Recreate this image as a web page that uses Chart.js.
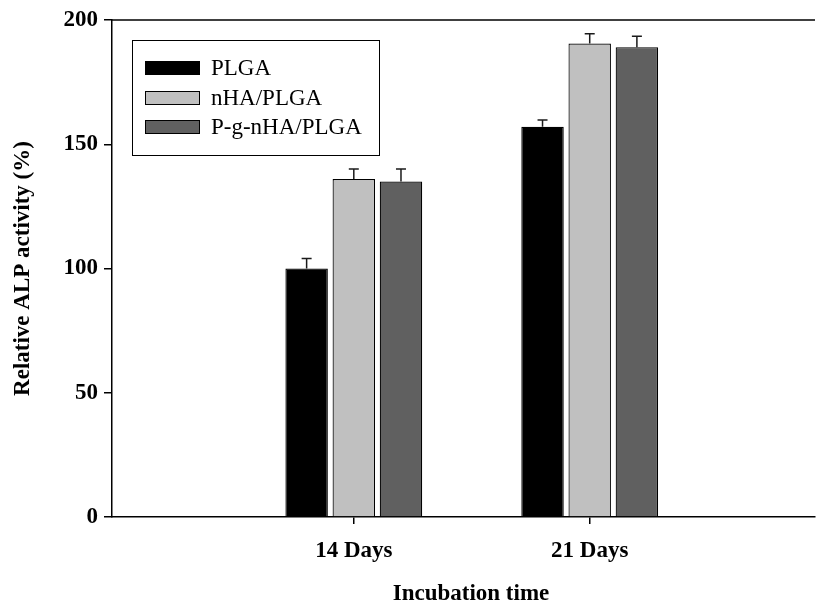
<!DOCTYPE html>
<html>
<head>
<meta charset="utf-8">
<script src="https://cdn.jsdelivr.net/npm/chart.js@4.4.1/dist/chart.umd.min.js"></script>
<style>
  html, body { margin: 0; padding: 0; background: #fff; }
  #wrap { width: 816px; height: 605px; position: relative; }
</style>
</head>
<body>
<div id="wrap"><canvas id="alpChart"></canvas></div>
<script>
// Données
const days = ['14 Days', '21 Days'];
const groups = ['PLGA', 'nHA/PLGA', 'P-g-nHA/PLGA'];
const plgaValues = [100, 157];
const plgaErrors = [4, 2.8];
const nhaValues = [136, 190.5];
const nhaErrors = [4, 4];
const pgValues = [135, 189];
const pgErrors = [5, 4.5];
const yTicks = [0, 50, 100, 150, 200];

const fillColors = ['#000000', '#c0c0c0', '#606060'];
const serif = '"Liberation Serif", "Times New Roman", serif';

// positions 1, 2 sur un axe linéaire (les catégories ne sont pas centrées dans le cadre)
function toPoints(values) {
    return values.map((v, i) => ({ x: i + 1, y: v }));
}

const seriesValues = [plgaValues, nhaValues, pgValues];
const seriesErrors = [plgaErrors, nhaErrors, pgErrors];

// barres d'erreur (vers le haut seulement)
const errorBars = {
    id: 'errorBars',
    afterDatasetsDraw(chart) {
        const ctx = chart.ctx;
        const yScale = chart.scales.y;
        ctx.save();
        ctx.strokeStyle = '#1a1a1a';
        ctx.lineWidth = 1.5;
        chart.data.datasets.forEach((ds, di) => {
            const meta = chart.getDatasetMeta(di);
            meta.data.forEach((bar, i) => {
                const top = yScale.getPixelForValue(seriesValues[di][i] + seriesErrors[di][i]);
                ctx.beginPath();
                ctx.moveTo(bar.x, bar.y);
                ctx.lineTo(bar.x, top);
                ctx.moveTo(bar.x - 5, top);
                ctx.lineTo(bar.x + 5, top);
                ctx.stroke();
            });
        });
        ctx.restore();
    }
};

// cadre du haut, légende encadrée et titre de l'axe x
const frameAndLegend = {
    id: 'frameAndLegend',
    afterDraw(chart) {
        const ctx = chart.ctx;
        const area = chart.chartArea;
        ctx.save();
        ctx.strokeStyle = '#000';
        ctx.lineWidth = 1.5;
        ctx.beginPath();
        ctx.moveTo(area.left, area.top);
        ctx.lineTo(area.right, area.top);
        ctx.stroke();

        // légende
        ctx.lineWidth = 1;
        ctx.strokeRect(132.5, 40.5, 247, 115);
        const rows = [68, 98, 127];
        ctx.font = '23px ' + serif;
        ctx.textBaseline = 'middle';
        ctx.textAlign = 'left';
        chart.data.datasets.forEach((ds, i) => {
            ctx.fillStyle = ds.backgroundColor;
            ctx.fillRect(145.5, rows[i] - 6.5, 54, 13);
            ctx.strokeStyle = '#000';
            ctx.strokeRect(145.5, rows[i] - 6.5, 54, 13);
            ctx.fillStyle = '#000';
            ctx.fillText(ds.label, 211, rows[i] + 1);
        });

        // titre axe x
        ctx.font = 'bold 23px ' + serif;
        ctx.textAlign = 'center';
        ctx.fillText('Incubation time', 471, 594);
        ctx.restore();
    }
};

new Chart(document.getElementById('alpChart'), {
    type: 'bar',
    data: {
        datasets: groups.map((g, i) => ({
            label: g,
            data: toPoints(seriesValues[i]),
            backgroundColor: fillColors[i],
            borderColor: '#000',
            borderWidth: 1.2,
            categoryPercentage: 0.6,
            barPercentage: 0.9
        }))
    },
    options: {
        responsive: true,
        maintainAspectRatio: false,
        animation: false,
        layout: { padding: { left: 0, right: 1, top: 20, bottom: 0 } },
        plugins: {
            legend: { display: false },
            tooltip: { enabled: false }
        },
        scales: {
            x: {
                type: 'linear',
                offset: false,
                min: -0.025,
                max: 2.955,
                afterBuildTicks(scale) {
                    scale.ticks = days.map((d, i) => ({ value: i + 1 }));
                },
                afterFit(scale) { scale.height = 88; },
                ticks: {
                    callback: (v) => days[v - 1],
                    font: { family: serif, size: 23, weight: 'bold' },
                    color: '#000',
                    padding: 13,
                    maxRotation: 0
                },
                grid: { drawOnChartArea: false, offset: false, tickLength: 7, color: '#000', lineWidth: 1.5 },
                border: { display: true, color: '#000', width: 1.5 }
            },
            y: {
                min: 0,
                max: 200,
                afterBuildTicks(scale) {
                    scale.ticks = yTicks.map(v => ({ value: v }));
                },
                afterFit(scale) { scale.width = 112; },
                ticks: {
                    font: { family: serif, size: 23, weight: 'bold' },
                    color: '#000',
                    padding: 6
                },
                grid: { drawOnChartArea: false, tickLength: 8, color: '#000', lineWidth: 1.5 },
                border: { display: true, color: '#000', width: 1.5 },
                title: {
                    display: true,
                    text: 'Relative ALP activity (%)',
                    font: { family: serif, size: 23, weight: 'bold' },
                    color: '#000',
                    padding: { top: 9, bottom: 0 }
                }
            }
        }
    },
    plugins: [errorBars, frameAndLegend]
});
</script>
</body>
</html>
